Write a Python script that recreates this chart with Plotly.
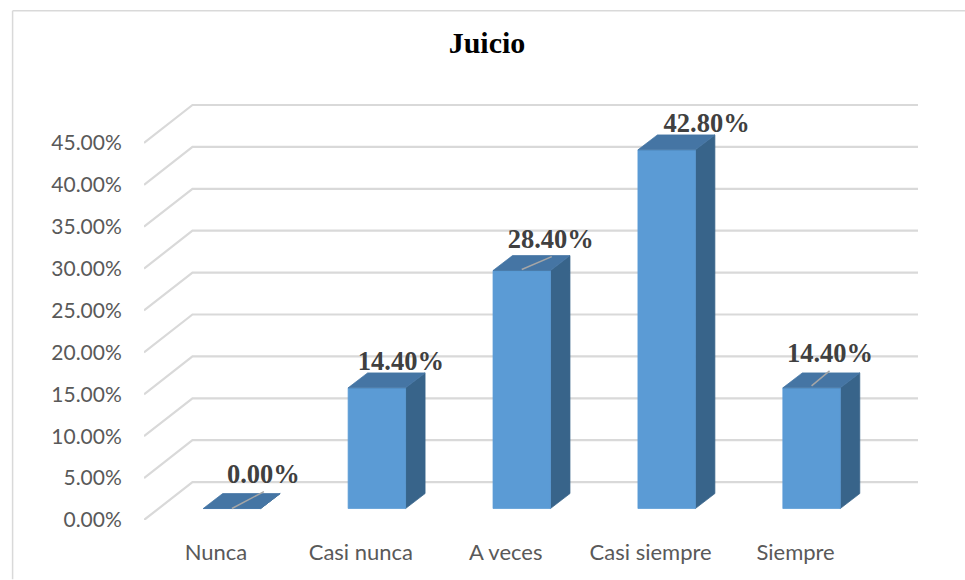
import numpy as np
import plotly.graph_objects as go

title = "Juicio"
categories = ["Nunca", "Casi nunca", "A veces", "Casi siempre", "Siempre"]
values = [0.0, 14.4, 28.4, 42.8, 14.4]
y_ticks = [0, 5, 10, 15, 20, 25, 30, 35, 40, 45]

# layout geometry (pixels)
W, H = 965, 580
PL, PR, PT, PB = 143.5, 918.0, 100.5, 520.5
PX_X = 145.0            # px per category
Y_MAX = 50.0
PX_Y = (PB - PT) / Y_MAX
X0_PX = 215.5           # px of first category
xr = [(PL - X0_PX) / PX_X, (PR - X0_PX) / PX_X]


def dx(p):
    return p / PX_X


def dy(p):
    return -p / PX_Y


WALL = (48.5, -38.0)
BAR_OFF = (16.0, -11.5)   # bar front base centre relative to category floor point
BAR_W = 57.5
BAR_D = (19.5, -15.0)

label_off = [(31.5, -32), (24, -25), (29, -29), (40, -25), (18.5, -33)]
leaders = [((0, 0), (32, -17)), None, ((0, -1), (30, -14)), None, ((0, -2), (18, -17))]

C_GRID = "#d9d9d9"
C_FRONT = "#5b9bd5"
C_TOP = "#4575a4"
C_SIDE = "#38648a"
C_LABEL = "#404040"
C_TICK = "#595959"

fig = go.Figure()

# gridlines on side wall and back wall
gx, gy = [], []
for t in y_ticks:
    gx += [xr[0], xr[0] + dx(WALL[0]), xr[1], None]
    gy += [t, t + dy(WALL[1]), t + dy(WALL[1]), None]
fig.add_trace(go.Scatter(x=gx, y=gy, mode="lines", line=dict(color=C_GRID, width=2.2),
                         hoverinfo="skip"))


def poly(pts):
    return [p[0] for p in pts] + [pts[0][0], None], [p[1] for p in pts] + [pts[0][1], None]


fx, fy, tx, ty, sx, sy = [], [], [], [], [], []
for i, v in enumerate(values):
    l = i + dx(BAR_OFF[0] - BAR_W / 2)
    r = i + dx(BAR_OFF[0] + BAR_W / 2)
    b = dy(BAR_OFF[1])
    t = v + b
    ddx, ddy = dx(BAR_D[0]), dy(BAR_D[1])
    a, c = poly([(l, b), (r, b), (r, t), (l, t)])
    fx += a; fy += c
    a, c = poly([(l, t), (r, t), (r + ddx, t + ddy), (l + ddx, t + ddy)])
    tx += a; ty += c
    a, c = poly([(r, b), (r + ddx, b + ddy), (r + ddx, t + ddy), (r, t)])
    sx += a; sy += c

for xs, ys, col in [(sx, sy, C_SIDE), (fx, fy, C_FRONT), (tx, ty, C_TOP)]:
    fig.add_trace(go.Scatter(x=xs, y=ys, mode="lines", fill="toself", fillcolor=col,
                             line=dict(color=col, width=0.75), hoverinfo="skip"))

# leader lines
lx, ly = [], []
for i, (v, ld) in enumerate(zip(values, leaders)):
    if ld is None:
        continue
    base_x = i + dx(BAR_OFF[0])
    base_y = v + dy(BAR_OFF[1])
    for p in ld:
        lx.append(base_x + dx(p[0]))
        ly.append(base_y + dy(p[1]))
    lx.append(None)
    ly.append(None)
fig.add_trace(go.Scatter(x=lx, y=ly, mode="lines", line=dict(color="#a6a6a6", width=1.5),
                         hoverinfo="skip"))

# data labels
fig.add_trace(go.Scatter(
    x=[i + dx(BAR_OFF[0] + o[0]) for i, o in enumerate(label_off)],
    y=[v + dy(BAR_OFF[1]) + dy(o[1]) for v, o in zip(values, label_off)],
    mode="text",
    text=[f"{v:.2f}%" for v in values],
    textposition="middle center",
    textfont=dict(family="Liberation Serif", size=26.5, color=C_LABEL, weight="bold"),
    hoverinfo="skip", cliponaxis=False))

fig.update_layout(
    width=W, height=H, autosize=False,
    margin=dict(l=PL, r=W - PR, t=PT, b=H - PB, pad=0),
    paper_bgcolor="white", plot_bgcolor="white",
    showlegend=False,
    title=dict(text=f"<b>{title}</b>", x=487 / W, xanchor="center", xref="container",
               y=1 - 42 / H, yanchor="middle", yref="container",
               font=dict(family="Liberation Serif", size=30, color="black")),
    xaxis=dict(range=xr, tickmode="array", tickvals=list(range(len(categories))),
               ticktext=categories, showgrid=False, zeroline=False, showline=False,
               ticks="outside", ticklen=13, tickcolor="rgba(0,0,0,0)",
               tickfont=dict(family="Lato", size=22, color=C_TICK)),
    yaxis=dict(range=[0, Y_MAX], tickmode="array", tickvals=y_ticks,
               ticktext=[f"{t:.2f}%" for t in y_ticks], showgrid=False, zeroline=False,
               showline=False, ticks="outside", ticklen=17, tickcolor="rgba(0,0,0,0)",
               tickfont=dict(family="Lato", size=21, color=C_TICK)),
    shapes=[
        dict(type="line", xref="paper", yref="paper",
             x0=(12 - PL) / (PR - PL), x1=(12 - PL) / (PR - PL),
             y0=(PB - 580) / (PB - PT), y1=(PB - 10) / (PB - PT),
             line=dict(color=C_GRID, width=1.5)),
        dict(type="line", xref="paper", yref="paper",
             x0=(12 - PL) / (PR - PL), x1=(965 - PL) / (PR - PL),
             y0=(PB - 10) / (PB - PT), y1=(PB - 10) / (PB - PT),
             line=dict(color=C_GRID, width=1.5)),
    ],
)
fig.write_html("out.html", config={"displayModeBar": False},
               post_script="document.body.style.margin='0';document.documentElement.style.overflow='hidden';")
